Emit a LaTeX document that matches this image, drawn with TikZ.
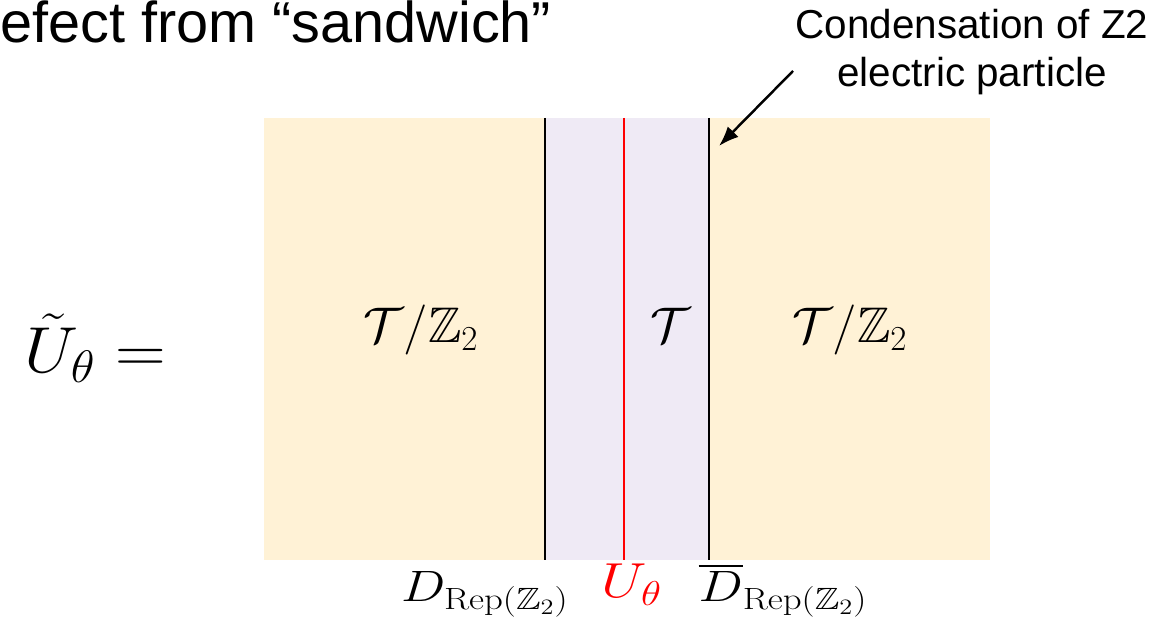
\RequirePackage{fix-cm}
\documentclass[tikz,border=0pt]{standalone}
\usepackage{amsmath,amssymb}
\usepackage{graphicx}
\usepackage[no-math]{fontspec}
\setmainfont{Liberation Sans}
\usetikzlibrary{arrows.meta,positioning}
\definecolor{cream}{HTML}{FFF2D6}
\definecolor{lavender}{HTML}{EFEAF5}
\definecolor{defect}{HTML}{FF0000}
\newcommand{\widelabel}[1]{\scalebox{1.2}[1]{#1}}
\tikzset{
    region/.style={
        draw=none
    },
    wall/.style={
        line width=1.3pt,
        color=black
    },
    bigmath/.style={
        font=\fontsize{28.5}{34}\selectfont,
        anchor=base,
        inner sep=0pt
    },
    walllabel/.style={
        font=\fontsize{25}{30}\selectfont,
        anchor=base,
        inner sep=0pt
    },
    note/.style={
        font=\fontsize{23}{27}\selectfont,
        align=center,
        inner sep=0pt
    },
    pointer/.style={
        -{Latex[length=4mm,width=3mm]},
        line width=1.4pt
    }
}

\begin{document}
\begin{tikzpicture}[x=0.02cm,y=-0.02cm]

    \useasboundingbox (0,0) rectangle (1161,624);

    % Titre
    \node[
        anchor=base west,
        inner sep=0pt,
        font=\fontsize{32.8}{38}\selectfont
    ]
        (title) at (0,43)
        {efect from \char"201Csandwich\char"201D};

    % Phases
    \fill[region,cream]
        (264,118) rectangle (990,560);
    \fill[region,lavender]
        (545,118) rectangle (709,560);

    % Parois
    \draw[wall]
        (545,118) -- (545,560);
    \draw[wall]
        (709,118) -- (709,560);
    \draw[line width=1.2pt,defect]
        (624,118) -- (624,560);

    % Membre de gauche
    \node[bigmath,font=\fontsize{37}{43}\selectfont]
        (lhs) at (95,373)
        {\scalebox{1.08}[1]{$\tilde{U}_\theta =$}};

    % Contenu des phases
    \node[bigmath]
        (left) at (421,343)
        {$\mathcal{T}/\mathbb{Z}_2$};
    \node[bigmath]
        (mid) at (670,343)
        {$\mathcal{T}$};
    \node[bigmath]
        (right) at (850,343)
        {$\mathcal{T}/\mathbb{Z}_2$};

    % Etiquettes des parois
    \node[walllabel]
        (dl) at (485,602)
        {\widelabel{$D_{\mathrm{Rep}(\mathbb{Z}_2)}$}};
    \node[walllabel,defect,font=\fontsize{28}{33}\selectfont]
        (ut) at (632,598)
        {\widelabel{$U_\theta$}};
    \node[walllabel]
        (dr) at (783,602)
        {\widelabel{$\overline{D}_{\mathrm{Rep}(\mathbb{Z}_2)}$}};

    % Condensation
    \node[note]
        (cond) at (972,52)
        {Condensation of Z2\\electric particle};
    \coordinate (tail) at (793,71);
    \coordinate (tip) at (719,146);
    \draw[pointer]
        (tail) -- (tip);

\end{tikzpicture}
\end{document}
